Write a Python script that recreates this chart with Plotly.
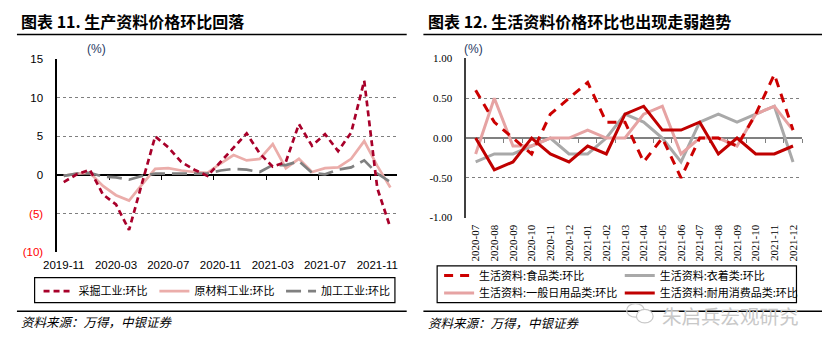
import plotly.graph_objects as go

W, H = 823, 356


def px(x):
    return x / W


def py(y):
    return 1 - y / H


# ---------------- data: left panel (生产资料) ----------------
months_a = ["2019-11", "2019-12", "2020-01", "2020-02", "2020-03", "2020-04",
            "2020-05", "2020-06", "2020-07", "2020-08", "2020-09", "2020-10",
            "2020-11", "2020-12", "2021-01", "2021-02", "2021-03", "2021-04",
            "2021-05", "2021-06", "2021-07", "2021-08", "2021-09", "2021-10",
            "2021-11", "2021-12"]
mining = [-0.9, 0.1, 0.7, -2.5, -3.8, -7.1, -1.0, 5.0, 3.6, 1.7, 0.7, -0.1,
          1.7, 3.6, 5.4, 2.8, 1.1, 1.7, 6.6, 3.8, 5.3, 3.1, 5.5, 12.2, -1.7, -6.8]
raw_mat = [-0.1, 0.2, 0.3, -1.4, -2.6, -3.3, -1.2, 0.8, 0.9, 0.6, 0.4, 0.3,
           1.5, 2.6, 1.9, 2.1, 4.0, 0.9, 2.1, 0.4, 0.9, 1.0, 2.1, 4.4, 1.2, -1.6]
process = [-0.1, 0.2, 0.3, -0.2, -0.3, -0.6, -0.1, 0.2, 0.2, 0.2, 0.2, 0.2,
           0.6, 0.8, 0.7, 0.4, 1.3, 1.3, 1.8, 0.3, 0.1, 0.7, 1.0, 1.9, 0.2, -0.9]
names_a = ["采掘工业:环比", "原材料工业:环比", "加工工业:环比"]
ytick_a = [-10, -5, 0, 5, 10, 15]
ytext_a = ["<span style='color:#FF0000'>(10)</span>",
           "<span style='color:#FF0000'>(5)</span>", "0", "5", "10", "15"]

# ---------------- data: right panel (生活资料) ----------------
months_b = ["2020-07", "2020-08", "2020-09", "2020-10", "2020-11", "2020-12",
            "2021-01", "2021-02", "2021-03", "2021-04", "2021-05", "2021-06",
            "2021-07", "2021-08", "2021-09", "2021-10", "2021-11", "2021-12"]
food = [0.6, 0.2, 0.0, -0.2, 0.3, 0.5, 0.7, 0.2, 0.2, -0.3, 0.0, -0.5,
        0.0, 0.0, -0.1, 0.3, 0.8, 0.1]
cloth = [-0.3, -0.2, -0.2, -0.1, 0.0, -0.2, -0.2, 0.0, 0.3, 0.2, 0.0, -0.3,
         0.2, 0.3, 0.2, 0.3, 0.4, -0.3]
daily = [-0.2, 0.5, -0.1, -0.1, 0.0, 0.0, 0.1, 0.0, 0.0, 0.3, 0.4, -0.2,
         0.0, 0.0, -0.1, 0.3, 0.4, 0.1]
durable = [0.0, -0.4, -0.3, 0.0, -0.2, -0.3, -0.1, -0.2, 0.3, 0.4, 0.1, 0.1,
           0.2, -0.2, 0.0, -0.2, -0.2, -0.1]
names_b = ["生活资料:食品类:环比", "生活资料:衣着类:环比",
           "生活资料:一般日用品类:环比", "生活资料:耐用消费品类:环比"]
ytick_b = [-1.0, -0.5, 0.0, 0.5, 1.0]
ytext_b = ["-1.00", "-0.50", "0.00", "0.50", "1.00"]

SANS = "Liberation Sans, Arial, sans-serif"
SERIF = "Liberation Serif, Times New Roman, serif"
CJK = "Noto Sans CJK SC, sans-serif"

xa = list(range(len(months_a)))
xb = list(range(len(months_b)))

fig = go.Figure()

# left traces (draw order: pink, gray, red)
fig.add_trace(go.Scatter(x=xa, y=raw_mat, mode="lines", name=names_a[1],
                         line=dict(color="#EBADAA", width=2.7), legend="legend2",
                         xaxis="x", yaxis="y"))
fig.add_trace(go.Scatter(x=xa, y=process, mode="lines", name=names_a[2],
                         line=dict(color="#808080", width=2.7, dash="15px,7px"),
                         legend="legend3", xaxis="x", yaxis="y"))
fig.add_trace(go.Scatter(x=xa, y=mining, mode="lines", name=names_a[0],
                         line=dict(color="#A8002A", width=2.7, dash="6px,4px"),
                         legend="legend", xaxis="x", yaxis="y"))
fig.add_trace(go.Scatter(x=[], y=[], xaxis="x2", yaxis="y", showlegend=False,
                         hoverinfo="skip"))

# right traces
fig.add_trace(go.Scatter(x=xb, y=cloth, mode="lines", name=names_b[1],
                         line=dict(color="#A9A9A9", width=3), legend="legend5",
                         xaxis="x3", yaxis="y2"))
fig.add_trace(go.Scatter(x=xb, y=daily, mode="lines", name=names_b[2],
                         line=dict(color="#E6A3A3", width=3), legend="legend6",
                         xaxis="x3", yaxis="y2"))
fig.add_trace(go.Scatter(x=xb, y=food, mode="lines", name=names_b[0],
                         line=dict(color="#CC0000", width=3, dash="9px,7px"),
                         legend="legend4", xaxis="x3", yaxis="y2"))
fig.add_trace(go.Scatter(x=xb, y=durable, mode="lines", name=names_b[3],
                         line=dict(color="#C00000", width=3), legend="legend7",
                         xaxis="x3", yaxis="y2"))
fig.add_trace(go.Scatter(x=[], y=[], xaxis="x4", yaxis="y2", showlegend=False,
                         hoverinfo="skip"))

# geometry
LD = [px(44), px(390)]
LYD = [py(255), py(55)]
RD = [px(460.7), px(803)]
RYD = [py(219), py(54.3)]
ra = [-10, 15]
rb = [-1.0, 1.0]
zero_a = LYD[0] + (0 - ra[0]) / (ra[1] - ra[0]) * (LYD[1] - LYD[0])
zero_b = RYD[0] + (0 - rb[0]) / (rb[1] - rb[0]) * (RYD[1] - RYD[0])

grid = dict(showgrid=True, gridcolor="#7F7F7F", griddash="dot", gridwidth=1)

fig.update_layout(
    width=W, height=H, margin=dict(l=0, r=0, t=0, b=0),
    paper_bgcolor="white", plot_bgcolor="white",
    xaxis=dict(domain=LD, anchor="y", range=[-0.5, len(xa) - 0.5],
               tickmode="array", tickvals=xa[::4], ticktext=months_a[::4],
               showline=False, showgrid=False, zeroline=False, ticks="",
               ticklabelstandoff=4,
               tickfont=dict(family=SANS, size=11.5, color="black")),
    xaxis2=dict(overlaying="x", anchor="free", position=zero_a, side="bottom",
                range=[-0.5, len(xa) - 0.5], tickmode="array",
                tickvals=[i - 0.5 for i in xa[4::4]], showticklabels=False,
                showline=True, linecolor="black", linewidth=1.5, ticks="outside",
                ticklen=4, tickwidth=1, tickcolor="black", showgrid=False,
                zeroline=False, layer="below traces"),
    yaxis=dict(domain=LYD, anchor="x", range=ra, tickmode="array",
               tickvals=ytick_a, ticktext=ytext_a, showline=True, linecolor="black",
               linewidth=1.5, zeroline=False, ticks="", ticklabelstandoff=10,
               tickfont=dict(family=SANS, size=11.5, color="black"), **grid),
    xaxis3=dict(domain=RD, anchor="y2", range=[-0.5, len(xb) - 0.5],
                tickmode="array", tickvals=xb, ticktext=months_b, tickangle=-90,
                showline=False, showgrid=False, zeroline=False, ticks="",
                ticklabelstandoff=4,
                tickfont=dict(family=SERIF, size=11, color="black")),
    xaxis4=dict(overlaying="x3", anchor="free", position=zero_b, side="bottom",
                range=[-0.5, len(xb) - 0.5], tickmode="array",
                tickvals=[i + 0.5 for i in xb], showticklabels=False,
                showline=True, linecolor="#808080", linewidth=2, ticks="outside",
                ticklen=4, tickwidth=1, tickcolor="#808080", showgrid=False,
                zeroline=False, layer="below traces"),
    yaxis2=dict(domain=RYD, anchor="x3", range=[rb[0] - 0.0001, rb[1] + 0.0001],
                tickmode="array", tickvals=ytick_b, ticktext=ytext_b,
                showline=True, linecolor="#404040", linewidth=1.5, zeroline=False,
                ticks="", ticklabelstandoff=10,
                tickfont=dict(family=SERIF, size=11, color="black"), **grid),
    showlegend=True,
)

# one legend per entry, placed where the reference shows them
leg_font = dict(family=CJK, size=11, color="black")
leg_pos = {
    "legend": (25, 295), "legend2": (143, 295), "legend3": (272, 295),
    "legend4": (433, 279), "legend5": (617, 279),
    "legend6": (433, 297), "legend7": (617, 297),
}
for key, (lx, ly) in leg_pos.items():
    fig.update_layout({key: dict(x=px(lx), y=py(ly), xanchor="left", yanchor="middle",
                                 orientation="v", bgcolor="rgba(0,0,0,0)",
                                 borderwidth=0, itemwidth=30, font=leg_font)})

ann = []
ann.append(dict(text="<b>图表 11. 生产资料价格环比回落</b>", x=px(5), y=py(16),
                xref="paper", yref="paper", xanchor="left", yanchor="middle",
                showarrow=False, font=dict(family=CJK, size=16, color="black")))
ann.append(dict(text="<b>图表 12. 生活资料价格环比也出现走弱趋势</b>", x=px(420), y=py(16),
                xref="paper", yref="paper", xanchor="left", yanchor="middle",
                showarrow=False, font=dict(family=CJK, size=16, color="black")))
ann.append(dict(text="(%)", x=px(72), y=py(45), xref="paper", yref="paper",
                xanchor="left", yanchor="middle", showarrow=False,
                font=dict(family=SANS, size=12, color="#1F3864")))
ann.append(dict(text="(%)", x=px(456), y=py(45), xref="paper", yref="paper",
                xanchor="left", yanchor="middle", showarrow=False,
                font=dict(family=SANS, size=12, color="#1F3864")))
ann.append(dict(text="<i>资料来源：万得，中银证券</i>", x=px(5), y=py(327),
                xref="paper", yref="paper", xanchor="left", yanchor="middle",
                showarrow=False, font=dict(family=CJK, size=12.5, color="black")))
ann.append(dict(text="<i>资料来源：万得，中银证券</i>", x=px(420), y=py(328),
                xref="paper", yref="paper", xanchor="left", yanchor="middle",
                showarrow=False, font=dict(family=CJK, size=12.5, color="black")))
ann.append(dict(text="朱启兵宏观研究", x=px(658), y=py(320), xref="paper", yref="paper",
                xanchor="left", yanchor="middle", showarrow=False,
                font=dict(family=CJK, size=19.5, color="#C8C8C8")))
fig.update_layout(annotations=ann)

shapes = []
for x0, x1 in [(3, 400), (417, 823)]:
    shapes.append(dict(type="line", xref="paper", yref="paper", x0=px(x0), x1=px(x1),
                       y0=py(29.5), y1=py(29.5), line=dict(color="black", width=1.5)))
    shapes.append(dict(type="line", xref="paper", yref="paper", x0=px(x0), x1=px(x1),
                       y0=py(316), y1=py(316), line=dict(color="black", width=1.5)))
# legend frames
shapes.append(dict(type="rect", xref="paper", yref="paper", x0=px(21), x1=px(388),
                   y0=py(307), y1=py(281), line=dict(color="black", width=1.2),
                   layer="below"))
shapes.append(dict(type="rect", xref="paper", yref="paper", x0=px(431), x1=px(797),
                   y0=py(307), y1=py(269), line=dict(color="black", width=1.2),
                   layer="below"))
# small WeChat-like icon near the watermark
shapes.append(dict(type="circle", xref="paper", yref="paper", x0=px(624), x1=px(642),
                   y0=py(322), y1=py(308), line=dict(color="#C8C8C8", width=1.2)))
shapes.append(dict(type="circle", xref="paper", yref="paper", x0=px(634), x1=px(651),
                   y0=py(328), y1=py(314), line=dict(color="#C8C8C8", width=1.2),
                   fillcolor="white"))
fig.update_layout(shapes=shapes)

fig.write_html("out.html", config={"displayModeBar": False},
               post_script="document.body.style.margin='0px';")
